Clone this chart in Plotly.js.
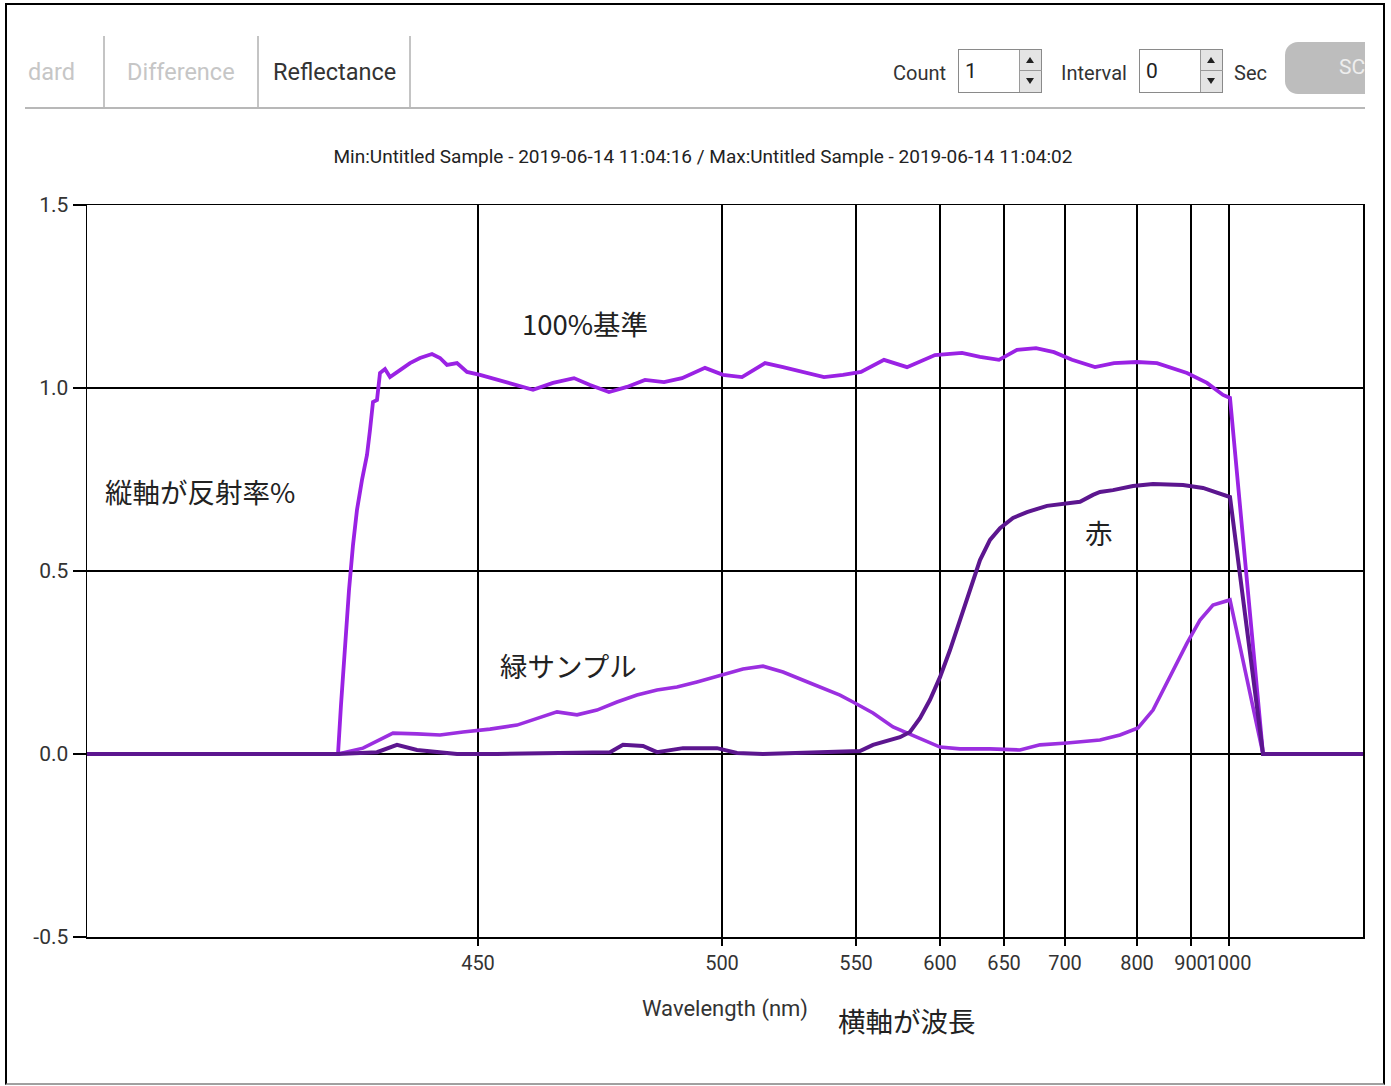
<!DOCTYPE html>
<html><head><meta charset="utf-8">
<script src="https://cdn.plot.ly/plotly-3.0.1.min.js"></script>
<style>
html,body{margin:0;padding:0;background:#fff;width:1391px;height:1086px;overflow:hidden;}
#chart{position:absolute;left:0;top:0;width:1391px;height:1086px;}
.ov{position:absolute;font-family:Roboto,"Open Sans",sans-serif;white-space:nowrap;}
.sep{position:absolute;top:36px;width:2px;height:72px;background:#c4c4c4;}
.tab{position:absolute;top:56px;font-size:23.5px;line-height:32px;font-family:Roboto,"Open Sans",sans-serif;white-space:nowrap;}
.lbl{position:absolute;top:58px;font-size:20px;line-height:30px;color:#333;font-family:Roboto,"Open Sans",sans-serif;white-space:nowrap;}
.box{position:absolute;top:49px;width:84px;height:44px;border:1px solid #8a8a8a;background:#fff;box-sizing:border-box;}
.box .v{position:absolute;left:6px;top:6px;font-size:21px;line-height:30px;color:#222;font-family:Roboto,"Open Sans",sans-serif;}
.spin{position:absolute;right:0;top:0;width:22px;height:42px;background:#e4e4e4;border-left:1px solid #9a9a9a;box-sizing:border-box;}
.spin .mid{position:absolute;left:0;top:20px;width:22px;height:1px;background:#9a9a9a;}
.up{position:absolute;left:6px;top:7px;width:0;height:0;border-left:4px solid transparent;border-right:4px solid transparent;border-bottom:6px solid #222;}
.dn{position:absolute;left:6px;top:28px;width:0;height:0;border-left:4px solid transparent;border-right:4px solid transparent;border-top:6px solid #222;}
</style></head><body>
<div id="chart"></div>

<div class="ov" style="left:5px;top:3px;width:1380px;height:1082px;border-left:2px solid #000;border-top:2px solid #000;border-right:2px solid #000;border-bottom:2px solid #a0a0a0;box-sizing:border-box;"></div>

<div class="tab" style="left:28px;color:#c6c6c6;">dard</div>
<div class="sep" style="left:103px;"></div>
<div class="tab" style="left:127px;color:#c6c6c6;">Difference</div>
<div class="sep" style="left:257px;"></div>
<div class="tab" style="left:273px;color:#333;">Reflectance</div>
<div class="sep" style="left:409px;"></div>
<div class="ov" style="left:25px;top:107px;width:1340px;height:2px;background:#b8b8b8;"></div>

<div class="lbl" style="left:893px;">Count</div>
<div class="box" style="left:958px;"><div class="v">1</div><div class="spin"><div class="up"></div><div class="mid"></div><div class="dn"></div></div></div>
<div class="lbl" style="left:1061px;">Interval</div>
<div class="box" style="left:1139px;"><div class="v">0</div><div class="spin"><div class="up"></div><div class="mid"></div><div class="dn"></div></div></div>
<div class="lbl" style="left:1234px;">Sec</div>
<div class="ov" style="left:1285px;top:42px;width:80px;height:52px;border-radius:13px 0 0 13px;background:#bdbdbd;">
  <span style="position:absolute;left:54px;top:10px;font-size:21px;line-height:30px;color:#eeeeee;font-family:Roboto,'Open Sans',sans-serif;">SC</span>
</div>

<script>
// x axis is in detector-position units; ticks mark the wavelengths (nm)
const tickPos = [391, 635, 769, 853, 917, 978, 1050, 1104, 1142];
const tickLabels = ['450', '500', '550', '600', '650', '700', '800', '900', '1000'];
const yTickVals = [-0.5, 0, 0.5, 1.0, 1.5];
const yTickLabels = ['-0.5', '0.0', '0.5', '1.0', '1.5'];

// 100% reference (基準)
const refX = [0,251,254,258,262,266,270,275,280,283,286,290,293,298,303,313,323,333,345,353,360,370,380,393,421,446,466,487,503,522,540,558,577,595,618,636,655,678,696,714,737,756,774,797,820,848,875,893,912,930,949,967,985,1008,1027,1050,1070,1100,1120,1136,1143,1176,1276];
const refY = [0,0,0.134,0.311,0.448,0.571,0.667,0.749,0.817,0.885,0.962,0.967,1.041,1.052,1.030,1.049,1.068,1.082,1.093,1.082,1.063,1.068,1.044,1.036,1.014,0.995,1.014,1.027,1.008,0.989,1.003,1.022,1.016,1.027,1.055,1.036,1.030,1.068,1.057,1.044,1.030,1.036,1.044,1.077,1.057,1.090,1.096,1.085,1.077,1.104,1.109,1.098,1.077,1.057,1.068,1.071,1.068,1.041,1.014,0.981,0.973,0,0];

// green sample (緑サンプル)
const greenX = [0,251,276,306,330,353,376,403,430,450,470,490,510,530,550,570,590,610,636,656,676,696,723,753,766,786,806,820,836,853,873,903,933,953,980,1013,1033,1051,1066,1083,1100,1113,1126,1143,1176,1276];
const greenY = [0,0,0.016,0.057,0.055,0.052,0.060,0.068,0.079,0.098,0.115,0.107,0.120,0.142,0.161,0.175,0.183,0.197,0.216,0.232,0.240,0.224,0.194,0.161,0.142,0.112,0.074,0.057,0.038,0.019,0.014,0.014,0.011,0.025,0.030,0.038,0.052,0.071,0.120,0.210,0.303,0.366,0.407,0.421,0,0];

// red sample (赤)
const redX = [0,251,290,310,330,370,410,476,523,536,556,570,596,630,650,676,763,773,786,803,813,823,833,843,853,863,873,883,893,903,913,926,940,960,980,993,1006,1013,1026,1046,1066,1096,1116,1133,1143,1176,1276];
const redY = [0,0,0.005,0.025,0.011,0,0,0.003,0.005,0.025,0.022,0.005,0.016,0.016,0.003,0,0.005,0.008,0.025,0.038,0.046,0.060,0.098,0.148,0.210,0.284,0.366,0.456,0.530,0.585,0.617,0.645,0.661,0.678,0.683,0.689,0.708,0.716,0.721,0.732,0.738,0.735,0.727,0.713,0.702,0,0];

const titleText = 'Min:Untitled Sample - 2019-06-14 11:04:16 / Max:Untitled Sample - 2019-06-14 11:04:02';
const font = 'Roboto, "Open Sans", sans-serif';
const cjk = '"Noto Sans CJK JP", "Noto Sans", sans-serif';

const traces = [
  {x: refX, y: refY, mode: 'lines', line: {color: '#9a22e4', width: 3.8}, hoverinfo: 'skip'},
  {x: greenX, y: greenY, mode: 'lines', line: {color: '#9b2fe0', width: 3.6}, hoverinfo: 'skip'},
  {x: redX, y: redY, mode: 'lines', line: {color: '#5c168f', width: 4}, hoverinfo: 'skip'}
];

const ann = (text, x, y) => ({text, x, y, xref: 'x', yref: 'y', showarrow: false,
  font: {family: cjk, size: 27.5, color: '#222'}, xanchor: 'center', yanchor: 'middle'});

const layout = {
  width: 1391, height: 1086, autosize: false,
  margin: {l: 87, r: 28, t: 205, b: 149},
  paper_bgcolor: 'rgba(0,0,0,0)', plot_bgcolor: '#fff',
  showlegend: false,
  title: {text: titleText, x: 703 / 1391, xref: 'container', xanchor: 'center',
          y: 1 - 156 / 1086, yref: 'container', yanchor: 'middle',
          font: {family: font, size: 19, color: '#222'}},
  xaxis: {range: [0, 1276], tickmode: 'array', tickvals: tickPos, ticktext: tickLabels,
          tickangle: 0,
          showgrid: true, gridcolor: '#000', gridwidth: 1.2, zeroline: false,
          showline: true, linecolor: '#000', linewidth: 1.5, mirror: true,
          ticks: 'outside', ticklen: 7, tickcolor: '#000', tickwidth: 1.2,
          tickfont: {family: font, size: 20, color: '#333'},
          title: {text: 'Wavelength (nm)', font: {family: font, size: 22, color: '#333'}, standoff: 27},
          fixedrange: true},
  yaxis: {range: [-0.5, 1.5], tickmode: 'array', tickvals: yTickVals, ticktext: yTickLabels,
          showgrid: true, gridcolor: '#000', gridwidth: 1.2, zeroline: false,
          showline: true, linecolor: '#000', linewidth: 1.5, mirror: true,
          ticks: 'outside', ticklen: 13, tickcolor: '#000', tickwidth: 1.2,
          tickfont: {family: font, size: 21, color: '#333'}, fixedrange: true},
  annotations: [
    ann('100%基準', 498, 1.178),
    ann('縦軸が反射率%', 113, 0.719),
    ann('赤', 1012, 0.607),
    ann('緑サンプル', 481, 0.243),
    {text: '横軸が波長', x: 820, xref: 'x', y: -(1020 - 937) / 732, yref: 'paper', showarrow: false,
     font: {family: cjk, size: 27.5, color: '#222'}, xanchor: 'center', yanchor: 'middle'}
  ]
};

Plotly.newPlot('chart', traces, layout, {displayModeBar: false, staticPlot: true});
</script>
</body></html>
